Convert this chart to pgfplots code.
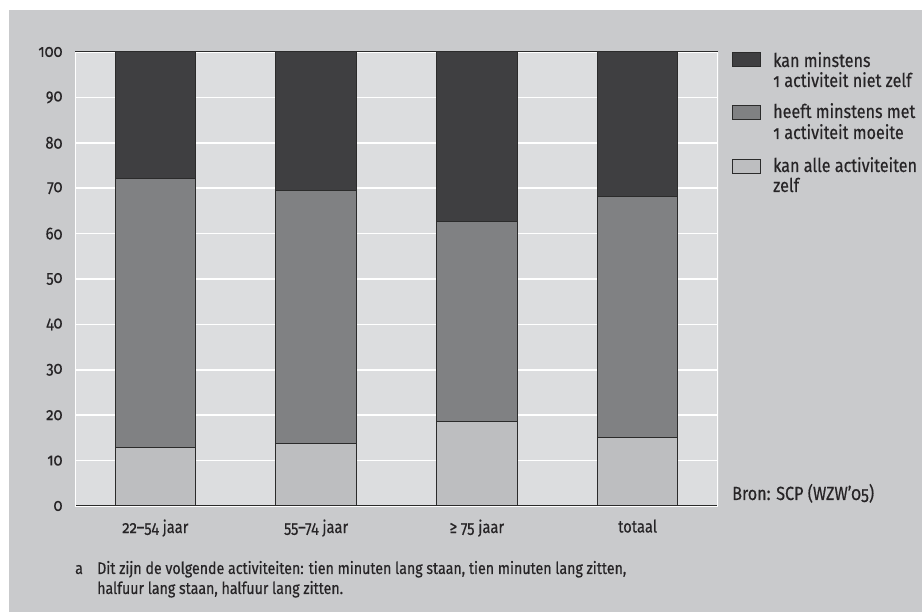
\documentclass[border=0pt]{standalone}
\usepackage{fontspec}
\setmainfont{Fira Sans}[Numbers=OldStyle, FakeStretch=0.85, FakeBold=0.4]
\usepackage{pgfplots}
\pgfplotsset{compat=1.18}
\definecolor{outerbg}{HTML}{C9CACC}
\definecolor{plotbg}{HTML}{DCDDDF}
\definecolor{darkbar}{HTML}{3F3F41}
\definecolor{midbar}{HTML}{808183}
\definecolor{lightbar}{HTML}{BDBEC0}
\definecolor{edge}{HTML}{2B2B2B}
\definecolor{textc}{HTML}{262426}
\newcommand{\fs}{\fontsize{16.7}{20}\selectfont}
\newcommand{\fl}{\fontsize{19}{22}\selectfont}
\newcommand{\ft}{\fontsize{17.3}{20}\selectfont}
\begin{document}
\begin{tikzpicture}[x=1pt,y=1pt]
\path[use as bounding box] (0,0) rectangle (922,612);
\fill[white] (0,0) rectangle (922,612);
\fill[outerbg] (9,0) rectangle (922,602);
\begin{axis}[
  at={(75pt,106pt)}, anchor=south west,
  scale only axis, width=643pt, height=454pt,
  xmin=-0.5, xmax=3.5, ymin=0, ymax=100,
  ybar stacked, bar width=0.5,
  xtick={0,1,2,3},
  xticklabels={22--54 jaar, 55--74 jaar, {≥ 75 jaar}, totaal},
  ytick={0,10,...,100},
  ymajorgrids, grid style={white, line width=1.5pt},
  major tick length=0pt,
  axis line style={draw=none},
  axis background/.style={fill=plotbg},
  tick label style={font=\ft, text=textc},
  /pgf/number format/assume math mode=true,
  yticklabel style={xshift=-9pt},
  xticklabel style={yshift=-10pt},
]
\addplot[fill=lightbar, draw=edge, line width=1pt] coordinates {(0,12.9) (1,13.8) (2,18.7) (3,15.0)};
\addplot[fill=midbar, draw=edge, line width=1pt] coordinates {(0,59.2) (1,55.6) (2,43.9) (3,53.1)};
\addplot[fill=darkbar, draw=edge, line width=1pt] coordinates {(0,27.9) (1,30.6) (2,37.4) (3,31.9)};
\draw[white, line width=1.5pt] (axis cs:-0.5,0) -- (axis cs:-0.5,100);
\draw[white, line width=1.5pt] (axis cs:3.5,0) -- (axis cs:3.5,100);
\draw[edge, line width=1pt] (axis cs:-0.5,0) -- (axis cs:3.5,0);
\draw[edge, line width=1pt] (axis cs:-0.5,100) -- (axis cs:3.5,100);
\end{axis}
% legend
\draw[edge, line width=0.9pt, fill=darkbar] (732,546) rectangle (760,560);
\node[anchor=base west, inner sep=0, font=\fl, text=textc] at (773,545) {kan minstens};
\node[anchor=base west, inner sep=0, font=\fl, text=textc] at (773,525) {1 activiteit niet zelf};
\draw[edge, line width=0.9pt, fill=midbar] (732,493) rectangle (760,507);
\node[anchor=base west, inner sep=0, font=\fl, text=textc] at (773,494) {heeft minstens met};
\node[anchor=base west, inner sep=0, font=\fl, text=textc] at (773,473) {1 activiteit moeite};
\draw[edge, line width=0.9pt, fill=lightbar] (732,439) rectangle (760,453);
\node[anchor=base west, inner sep=0, font=\fl, text=textc] at (773,440) {kan alle activiteiten};
\node[anchor=base west, inner sep=0, font=\fl, text=textc] at (773,420) {zelf};
% source
\node[anchor=base west, inner sep=0, font=\fl, text=textc] at (732,112) {Bron: SCP (WZW’05)};
% footnote
\node[anchor=base west, inner sep=0, font=\fs, text=textc] at (75,38) {a};
\node[anchor=base west, inner sep=0, font=\fs, text=textc] at (97,38) {Dit zijn de volgende activiteiten: tien minuten lang staan, tien minuten lang zitten,};
\node[anchor=base west, inner sep=0, font=\fs, text=textc] at (97,18) {halfuur lang staan, halfuur lang zitten.};
\end{tikzpicture}
\end{document}
